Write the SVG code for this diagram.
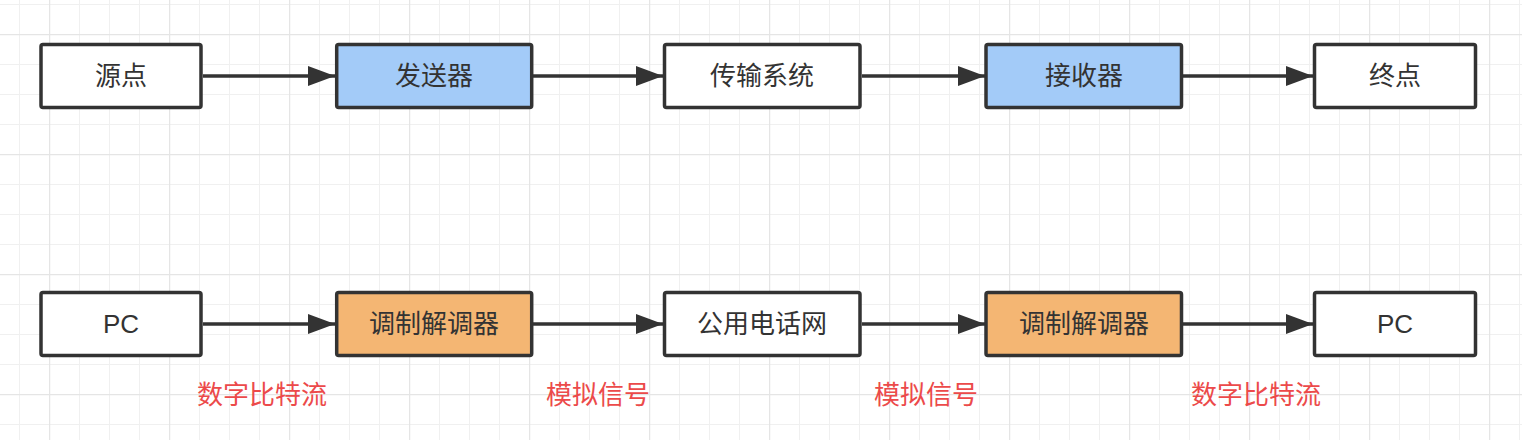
<svg xmlns="http://www.w3.org/2000/svg" width="1522" height="440" viewBox="0 0 1522 440">
  <defs>
    <pattern id="grid" x="49" y="34" width="120" height="120" patternUnits="userSpaceOnUse">
      <path d="M30.5 0V120M60.5 0V120M90.5 0V120M0 30.5H120M0 60.5H120M0 90.5H120" stroke="#f0f0f0" stroke-width="1" fill="none"/>
      <path d="M0.5 0V120M0 0.5H120" stroke="#e5e5e5" stroke-width="1.5" fill="none"/>
    </pattern>
    <marker id="arrow" markerUnits="userSpaceOnUse" markerWidth="28" markerHeight="20" refX="27" refY="10" orient="auto">
      <path d="M0 0L27 10L0 20Z" fill="#333333"/>
    </marker>
  </defs>
  <style>
    .node { stroke: #333333; stroke-width: 3.5; }
    .plain { fill: #ffffff; }
    .blue { fill: #a3cbf8; }
    .orange { fill: #f4b673; }
    .label { font-family: "Liberation Sans", "Noto Sans CJK SC", sans-serif; font-size: 26px; fill: #333333; text-anchor: middle; dominant-baseline: central; }
    .note { font-family: "Liberation Sans", "Noto Sans CJK SC", sans-serif; font-size: 26px; fill: #ec4a4a; text-anchor: middle; dominant-baseline: central; }
    .edge { stroke: #333333; stroke-width: 3.5; fill: none; marker-end: url(#arrow); }
  </style>
  <rect width="1522" height="440" fill="#ffffff"/>
  <rect width="1522" height="440" fill="url(#grid)"/>

  <g id="connectors">
    <path class="edge" d="M203 76H335"/>
    <path class="edge" d="M533 76H663"/>
    <path class="edge" d="M862 76H985"/>
    <path class="edge" d="M1183 76H1313"/>
    <path class="edge" d="M203 324H335"/>
    <path class="edge" d="M533 324H663"/>
    <path class="edge" d="M862 324H985"/>
    <path class="edge" d="M1183 324H1313"/>
  </g>

  <g id="n-source">
    <rect class="node plain" x="41" y="44.5" width="160" height="63" rx="2"/>
    <text class="label" x="121" y="76">源点</text>
  </g>
  <g id="n-sender">
    <rect class="node blue" x="336.7" y="44.5" width="195" height="63" rx="2"/>
    <text class="label" x="434" y="76">发送器</text>
  </g>
  <g id="n-transmission">
    <rect class="node plain" x="664.5" y="44.5" width="195.5" height="63" rx="2"/>
    <text class="label" x="762" y="76">传输系统</text>
  </g>
  <g id="n-receiver">
    <rect class="node blue" x="986" y="44.5" width="195.5" height="63" rx="2"/>
    <text class="label" x="1084" y="76">接收器</text>
  </g>
  <g id="n-destination">
    <rect class="node plain" x="1314.5" y="44.5" width="161" height="63" rx="2"/>
    <text class="label" x="1395" y="76">终点</text>
  </g>

  <g id="n-pc1">
    <rect class="node plain" x="41" y="292.5" width="160" height="63" rx="2"/>
    <text class="label" x="121" y="324">PC</text>
  </g>
  <g id="n-modem1">
    <rect class="node orange" x="336.7" y="292.5" width="195" height="63" rx="2"/>
    <text class="label" x="434" y="324">调制解调器</text>
  </g>
  <g id="n-pstn">
    <rect class="node plain" x="664.5" y="292.5" width="195.5" height="63" rx="2"/>
    <text class="label" x="762" y="324">公用电话网</text>
  </g>
  <g id="n-modem2">
    <rect class="node orange" x="986" y="292.5" width="195.5" height="63" rx="2"/>
    <text class="label" x="1084" y="324">调制解调器</text>
  </g>
  <g id="n-pc2">
    <rect class="node plain" x="1314.5" y="292.5" width="161" height="63" rx="2"/>
    <text class="label" x="1395" y="324">PC</text>
  </g>

  <g id="notes">
    <text class="note" x="262" y="395">数字比特流</text>
    <text class="note" x="598" y="395">模拟信号</text>
    <text class="note" x="926" y="395">模拟信号</text>
    <text class="note" x="1256" y="395">数字比特流</text>
  </g>
</svg>
